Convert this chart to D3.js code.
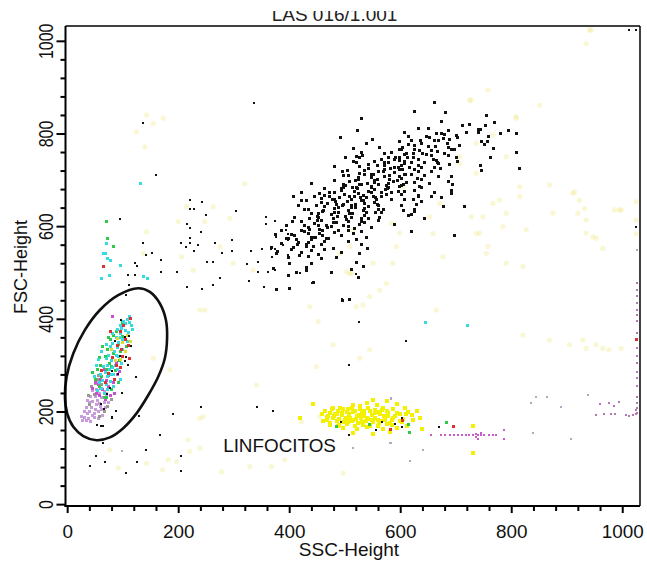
<!DOCTYPE html>
<html>
<head>
<meta charset="utf-8">
<script src="https://cdn.jsdelivr.net/npm/d3@7"></script>
<style>
  html, body { margin: 0; padding: 0; background: #fff; }
  svg { display: block; }
</style>
</head>
<body>
<div id="chart"></div>
<script>
// axis setup
const sscDomain = [-3, 1032];
const fscDomain = [-4, 1032];
const axisTicks = d3.range(0, 1001, 40);
const sscLabels = [0, 200, 400, 600, 800, 1000];
const fscLabels = [0, 200, 400, 600, 800, 1000];

// events, [SSC-Height, FSC-Height]
const granulocytes = [
    [530,833],[522,806],[492,792],[549,787],[539,779],
    [516,768],[529,759],[563,770],[584,760],[598,766],
    [531,752],[572,757],[579,749],[608,755],
    [501,748],[515,740],[520,751],[566,744],[572,738],[591,749],[599,743],
    [521,738],[527,729],[542,733],[554,740],[571,731],[578,737],[596,728],[608,735],
    [482,729],[505,720],[542,724],[559,731],[569,719],[590,727],[603,722],
    [495,719],[506,710],[527,714],[536,721],[551,712],[560,718],[581,709],[589,716],[609,711],
    [497,709],[519,700],[524,706],[547,711],[554,699],[572,708],[581,702],[599,707],
    [482,700],[497,691],[509,697],[524,701],[530,690],[554,695],[559,702],[578,692],[587,697],[605,690],
    [440,692],[493,682],[501,689],[521,683],[527,691],[548,686],[553,680],[575,689],[579,683],[602,688],
    [464,682],[473,673],[494,678],[497,684],[518,675],[523,681],[542,676],[547,683],[566,674],[573,680],[596,676],
    [421,673],[445,664],[455,670],[473,665],[481,674],[500,668],[509,664],[525,671],[533,666],[548,673],[555,663],[575,669],[584,674],
    [407,664],[431,655],[458,660],[464,666],[482,657],[491,663],[512,659],[517,665],[533,656],[539,662],[557,658],[566,664],[584,659],
    [422,655],[449,646],[458,651],[477,657],[485,648],[505,653],[512,645],[529,656],[536,649],[554,652],[560,646],
    [417,646],[435,637],[463,643],[469,649],[488,640],[495,646],[512,641],[519,647],[536,638],[542,644],[559,648],[569,637],
    [428,637],[452,628],[461,634],[482,639],[489,630],[507,635],[513,627],[533,634],[539,629],[560,636],[566,631],
    [440,628],[452,619],[476,625],[482,631],[501,622],[509,627],[529,618],[536,624],[555,629],[563,620],
    [410,619],[422,610],[437,616],[451,621],[458,612],[479,617],[485,609],[503,615],[511,620],[530,611],[542,618],[561,612],
    [405,610],[428,601],[446,606],[451,612],[467,603],[479,608],[497,601],[506,610],[527,604],[536,609],[589,604],
    [395,601],[422,592],[434,598],[452,603],[455,594],[475,599],[488,591],[507,600],[518,595],[548,598],
    [386,592],[404,583],[428,589],[437,594],[455,585],[459,591],[481,586],[506,592],[530,588],
    [374,583],[399,574],[409,580],[434,585],[440,576],[459,581],[467,573],[494,580],[515,584],
    [395,574],[417,565],[439,571],[446,576],[464,568],[470,573],[506,567],[521,572],[539,575],
    [386,563],[407,554],[415,560],[435,565],[443,556],[458,561],[479,553],[530,560],
    [367,554],[379,545],[404,550],[431,556],[439,547],[464,551],[494,544],[541,552],
    [377,542],[398,533],[419,538],[422,544],[434,535],[452,540],[485,533],[527,541],
    [457,531],[521,523],[401,520],[431,511],[440,521],[533,513],[371,509],[413,500],[431,505],[476,500],
    [512,508],[398,494],[525,490],[443,478],[377,463],[401,465],[496,440],[508,442],
    [662,868],[626,849],[681,845],[755,840],
    [674,826],[711,817],[769,825],[725,819],[741,810],[753,818],
    [632,811],[674,801],[686,807],[719,802],[745,809],[781,800],[794,806],
    [608,803],[647,794],[665,800],[679,799],[701,797],[703,792],[740,803],[758,795],[809,800],
    [614,794],[637,785],[653,791],[677,790],[689,788],[746,784],
    [599,784],[626,775],[638,780],[662,786],[685,778],[707,774],[757,784],
    [614,776],[626,767],[650,773],[663,772],[686,770],[692,766],[752,776],[767,769],
    [602,767],[623,758],[635,763],[656,764],[667,761],[680,757],[698,767],[809,759],
    [611,758],[623,749],[647,755],[656,754],[686,752],
    [599,748],[620,739],[632,744],[659,745],[665,742],[667,738],[701,748],[703,741],[763,749],
    [608,740],[632,731],[644,737],[669,736],[689,734],
    [602,731],[626,722],[638,727],[662,728],[673,725],[746,721],[745,731],[815,724],
    [599,722],[620,713],[632,718],[656,719],
    [607,712],[631,703],[644,709],[668,708],[692,707],
    [602,704],[626,695],[638,701],[686,696],
    [611,695],[635,686],[653,692],[693,691],
    [599,686],[626,677],[638,683],[692,678],
    [608,676],[632,667],[662,673],[692,672],
    [602,668],[623,659],[632,665],[656,664],[674,663],
    [608,657],[629,648],[638,654],
    [602,646],[626,637],[677,643],[716,642],
    [605,635],[620,626],[626,632],[614,624],[644,616],
    [619,590],[698,581],
    [513,683],[547,705],[571,723],[589,744],[528,662],[561,690],[498,648],[536,712],[582,726],[604,770],
    [620,786],[650,812],[668,785],[640,758],[617,728],[594,700],[576,681],[552,664],[519,640],[486,622],
    [469,598],[447,577],[430,560],[412,571],[460,633],[483,654],[540,693],[565,744],[527,749],[612,748]
];

const blackScatter = [
    [137,823],[337,865],[160,710],[95,615],[221,655],[229,636],[221,636],[244,651],[251,623],[305,633],
    [217,605],[221,595],[241,587],[221,573],[206,564],[214,554],[221,563],[236,559],[229,546],[267,564],
    [298,569],[298,546],[279,541],[253,523],[263,523],[137,564],[142,537],[153,541],[169,527],[122,520],
    [127,514],[110,495],[122,495],[169,500],[199,500],[111,473],[107,451],[217,468],[244,464],[263,473],
    [275,487],[325,518],[328,482],[332,546],[344,523],[352,550],[367,550],[374,550],[359,619],[359,604],
    [374,610],[377,577],[370,533],[344,500],[363,500],[374,505],[355,468],[377,464],[389,559],[398,569],
    [399,583],[395,592],[399,538],[400,495],[400,464],[442,477],[419,498],[241,209],[343,209],[371,200],
    [191,195],[81,186],[62,169],[65,169],[167,149],[65,132],[53,104],[69,91],[41,81],[127,91],
    [142,117],[206,104],[206,72],[106,67],[130,190],[521,497],[496,442],[508,442],[526,392],[610,351],
    [508,300],[1026,597],[1013,1023],[1026,1023],
    [493,177],[568,177],[591,172],[603,167],[557,159],[508,149],[671,167],[603,185]
];

const lymphYellow = [
    [551,226],[575,223],[443,217],[515,214],[539,218],[557,215],[593,217],
    [479,208],[497,205],[512,209],[527,206],[542,208],[554,204],[569,209],[587,206],[608,207],
    [464,201],[473,198],[488,202],[503,199],[518,201],[530,197],[545,202],[560,199],[575,201],[593,198],[614,200],[629,202],
    [458,194],[470,191],[482,195],[494,192],[508,194],[521,190],[535,195],[548,192],[563,194],[578,191],[599,195],[620,192],
    [419,186],[467,183],[478,187],[490,184],[502,186],[515,182],[529,187],[541,184],[554,186],[572,183],[587,187],[605,184],[635,186],
    [461,179],[473,176],[485,180],[499,177],[512,179],[524,175],[538,180],[551,177],[565,179],[581,176],[599,180],
    [473,172],[488,169],[503,173],[518,170],[533,172],[559,169],[575,173],[611,170],
    [497,165],[521,162],[539,166],[569,163],[593,165],[638,162],[515,155],[551,152],[581,156],
    [480,190],[495,197],[510,187],[525,193],[540,186],[555,197],[570,190],[585,182],[500,182],[530,178],
    [545,170],[515,199],[560,183],[490,172],[505,205],[535,201],[730,169],[730,111],
    [476,205],[485,195],[506,178],[520,185],[532,190],[548,181],[562,175],[578,197],[590,190],[602,178],
    [468,188],[492,208],[528,212],[566,203],[584,172],[610,196],[622,182]
];

const faintYellow = [
    [758,894],[728,872],[851,861],[809,836],[767,797],[737,779],[791,750],[707,735],[815,685],[869,689],
    [767,649],[791,628],[728,620],[743,585],[827,592],[875,628],[911,671],[935,585],[995,635],[755,541],
    [677,534],[791,520],[821,513],[947,577],[599,585],[653,620],[605,685],[671,649],[941,1023],
    [125,804],[143,840],[155,822],[173,833],[140,771],[320,692],[200,610],[248,610],[215,642],[263,642],
    [293,617],[275,556],[143,588],[206,534],[227,505],[137,541],[299,520],[335,505],
    [239,419],[248,419],[155,315],[185,290],[341,257],[449,297],[452,394],[437,426],[239,185],[245,189],
    [218,139],[239,121],[221,114],[172,74],[182,96],[197,92],[278,70],[329,81],[368,81],[392,96],
    [77,117],[92,78],[422,178],[455,189],[143,88],
    [821,365],[869,354],[665,419],[512,498],[533,430],[545,333],[527,315],[479,344],[497,67],
    [914,674],[923,656],[920,628],[932,638],[935,613],[953,574],[965,552],[986,635],[998,635],[1025,653],
    [905,344],[929,354],[935,336],[953,344],[965,336],[976,333],[998,336],[944,1024],[935,994],[1025,613],[1025,584],
    [509,556],[491,541],[503,502],[551,520],[587,520],[575,476],[521,426],[563,462],[509,498],[593,556],
    [545,448],[584,606],[515,592],[725,872],[809,833],[707,750],[737,714],[779,656],[815,664],[749,620],
    [785,599],[737,584],[659,584],[758,556]
];

// gated lymphocyte events, by colour
const gateCyan = [
    [108,400],[112,392],[102,395],[115,385],[98,380],[105,375],[110,370],[95,368],[88,360],[100,355],
    [93,350],[82,348],[78,340],[90,338],[85,330],[75,322],[70,315],[80,310],[72,300],[65,298],
    [76,290],[68,285],[60,280],[73,275],[64,268],[58,262],[70,258],[62,250],[55,245],[66,240],
    [77,265],[83,280],[86,300],[92,320],[118,378],[96,385],
    [112,405],[104,390],[90,378],[82,368],[96,360],[108,352],[70,345],[100,335],[62,330],[88,322],
    [56,312],[98,305],[82,296],[52,300],[90,290],[78,280],[96,270],[48,275],[84,255],[72,248],
    [131,692],[71,563],[68,541],[77,527],[65,541],[73,530],[95,515],[62,487],[76,495],[137,491],[145,487],
    [645,392],[721,387]
];
const gateGreen = [
    [88,372],[84,365],[78,355],[92,345],[72,335],[84,325],[68,320],[76,305],[60,300],[70,292],
    [54,290],[62,275],[50,270],[58,255],[66,230],[80,298],[95,330],[100,362],
    [100,392],[74,360],[106,340],[64,340],[94,310],[58,318],[86,288],[46,284],[80,248],[70,230],[92,262],
    [71,610],[83,556],[73,574],[484,167],[545,173],[614,173],[617,154],[683,177]
];
const gateRed = [
    [102,385],[95,372],[105,355],[90,342],[98,335],[82,318],[110,342],[88,300],[75,282],[112,315],
    [68,262],[85,270],[114,402],[78,372],[96,296],[62,288],[100,320],
    [65,513],[695,167],[1026,355],[583,162],[603,181]
];
const gateYellow = [
    [108,365],[100,350],[90,358],[114,352],[86,310],[104,330],[96,312],[80,335]
];
const gateBlack = [
    [98,398],[112,362],[104,360],[86,352],[116,340],[95,320],[110,300],[82,288],[78,250],[62,215],
    [55,170],[100,240],[88,200],[82,188],[124,274],[107,318],[92,280],[72,238],[104,308],[66,205]
];
const gatePurple = [
    [82,295],[74,278],[66,290],[60,270],[70,268],[56,258],[64,248],[90,280],[52,240],[75,255],
    [84,262],[58,235],[81,406],[88,306],[94,286],[50,262],[78,236],[68,226],[46,250],[85,240]
];
const gateLavender = [
    [60,250],[52,248],[58,240],[50,232],[62,230],[55,225],[46,222],[52,215],[60,212],[44,210],
    [50,205],[40,200],[56,200],[36,195],[45,192],[30,188],[38,185],[48,188],[26,190],[34,180],
    [42,178],[62,205],[66,220],[70,240],[54,262],[46,245],[40,220],[30,200],
    [70,232],[74,220],[64,192],[56,186],[34,208],[42,232],[36,224],[58,218],[68,210],[48,196],
    [28,182],[66,244]
];
const gateGray = [
    [50,260],[44,255],[56,278],[62,258],[48,238],[40,215],[66,200],[58,190],[72,212],[38,236],
    [80,226],[54,270]
];

const magentaStreak = [
    [656,149],[674,149],[680,149],[689,149],[697,148],[704,150],[712,149],[719,148],[725,150],[731,149],
    [736,152],[736,144],[740,149],[740,141],[746,150],[752,148],[760,149],[767,150],[773,149],[788,159],
    [788,140],[745,153]
];
const magentaRight = [
    [961,216],[976,219],[986,211],[995,221],[953,193],[968,195],[980,195],[988,195],[1007,193],[1013,191],
    [1025,195],[1025,203],[1020,192],
    [1026,477],[1026,461],[1026,448],[1026,435],[1026,419],[1026,408],[1026,394],[1026,369],[1026,337],
    [1026,319],[1026,304],[1026,286],[1026,272],[1026,254],[1026,232],[1026,218],[1026,207],[1026,197]
];
const lavenderScatter = [
    [583,229],[835,219],[844,231],[865,231],[889,209],[939,236],[908,140],[839,154],[617,94],[641,117],
    [583,132],[515,122],[584,226],[581,133],[98,114],[1026,549]
];

// gate vertices, [SSC, FSC]
const gateSSC = [128,149,167,178,180,176,164,146,125,101,77,53,29,11,0,-4,-1,11,32,59,92];
const gateFSC = [466,458,433,397,358,315,275,235,196,164,144,138,147,167,196,232,275,325,376,419,451];

const width = 647;
const height = 561;
const frame = { left: 65.5, right: 640, top: 26, bottom: 506 };
const fontFamily = '"Liberation Sans", Arial, Helvetica, sans-serif';

const x = d3.scaleLinear().domain(sscDomain).range([frame.left, frame.right]);
const y = d3.scaleLinear().domain(fscDomain).range([frame.bottom, frame.top]);

const svg = d3.select('#chart').append('svg')
    .attr('width', width)
    .attr('height', height)
    .attr('viewBox', [0, 0, width, height])
    .style('font-family', fontFamily);

svg.append('defs').append('clipPath').attr('id', 'plot-clip')
    .append('rect')
    .attr('x', frame.left)
    .attr('y', frame.top)
    .attr('width', frame.right - frame.left)
    .attr('height', frame.bottom - frame.top);

svg.select('defs').append('clipPath').attr('id', 'title-clip')
    .append('rect')
    .attr('x', 0).attr('y', 11)
    .attr('width', width).attr('height', 15);

const plot = svg.append('g').attr('clip-path', 'url(#plot-clip)');

// faint events are soft blobs, the rest are small square pixels
plot.append('g')
    .selectAll('circle')
    .data(faintYellow)
    .join('circle')
    .attr('cx', d => x(d[0]))
    .attr('cy', d => y(d[1]))
    .attr('r', 2.6)
    .attr('fill', '#ece77a')
    .attr('opacity', 0.32);

const layers = [
    { data: lymphYellow, color: '#f3f000', size: 3.6 },
    { data: lavenderScatter, color: '#b9a4c4', size: 2 },
    { data: magentaStreak, color: '#cc5ccc', size: 2.2 },
    { data: magentaRight, color: '#b576b5', size: 2.2 },
    { data: gateLavender, color: '#c79bdc', size: 2.6 },
    { data: gateGray, color: '#9a9a88', size: 2.6 },
    { data: gatePurple, color: '#c84fcf', size: 2.6 },
    { data: gateGreen, color: '#2fc84a', size: 2.6 },
    { data: gateCyan, color: '#36dbe0', size: 2.6 },
    { data: gateRed, color: '#de3030', size: 2.6 },
    { data: gateYellow, color: '#e2dc2c', size: 2.6 },
    { data: gateBlack, color: '#111', size: 2.4 },
    { data: granulocytes, color: '#111', size: 2.5 },
    { data: blackScatter, color: '#111', size: 2.4 }
];

layers.forEach(layer => {
    plot.append('g')
        .attr('fill', layer.color)
        .attr('shape-rendering', 'crispEdges')
        .selectAll('rect')
        .data(layer.data)
        .join('rect')
        .attr('x', d => Math.round(x(d[0]) - layer.size / 2))
        .attr('y', d => Math.round(y(d[1]) - layer.size / 2))
        .attr('width', layer.size)
        .attr('height', layer.size);
});

// gate
const gateLine = d3.line()
    .x(d => x(d[0]))
    .y(d => y(d[1]))
    .curve(d3.curveCatmullRomClosed.alpha(0.5));

svg.append('path')
    .attr('d', gateLine(gateSSC.map((v, i) => [v, gateFSC[i]])))
    .attr('fill', 'none')
    .attr('stroke', '#111')
    .attr('stroke-width', 2.6);

svg.append('text')
    .attr('transform', `translate(${x(281)},${y(113)}) scale(1.02,1)`)
    .attr('font-size', 18.5)
    .attr('fill', '#111')
    .text('LINFOCITOS');

// frame
svg.append('g')
    .attr('stroke', '#000')
    .call(g => {
        g.append('line').attr('x1', frame.left).attr('x2', frame.right)
            .attr('y1', frame.top).attr('y2', frame.top).attr('stroke-width', 1.5);
        g.append('line').attr('x1', frame.right).attr('x2', frame.right)
            .attr('y1', frame.top).attr('y2', frame.bottom).attr('stroke-width', 1.5);
        g.append('line').attr('x1', frame.left).attr('x2', frame.left)
            .attr('y1', frame.top).attr('y2', frame.bottom + 1).attr('stroke-width', 2);
        g.append('line').attr('x1', frame.left - 1).attr('x2', frame.right)
            .attr('y1', frame.bottom).attr('y2', frame.bottom).attr('stroke-width', 2);
    });

svg.append('g')
    .attr('transform', `translate(0,${frame.bottom})`)
    .call(
        d3.axisBottom(x)
          .tickValues(axisTicks)
          .tickFormat(d => sscLabels.includes(d) ? d : '')
    )
    .call(g => {
        g.attr('font-family', fontFamily);
        g.select('.domain').remove();
        g.selectAll('.tick line')
            .attr('stroke', '#000')
            .attr('stroke-width', 2)
            .attr('y2', d => sscLabels.includes(d) ? 7 : 5);
        g.selectAll('.tick text')
            .attr('y', 32)
            .attr('dy', 0)
            .attr('fill', '#111')
            .attr('font-size', 18)
            .attr('transform', 'scale(1.05,1)');
    });

svg.append('g')
    .attr('transform', `translate(${frame.left},0)`)
    .call(
        d3.axisLeft(y)
          .tickValues(axisTicks)
          .tickFormat(d => fscLabels.includes(d) ? d : '')
    )
    .call(g => {
        g.attr('font-family', fontFamily);
        g.select('.domain').remove();
        g.selectAll('.tick line')
            .attr('stroke', '#000')
            .attr('stroke-width', 2)
            .attr('x2', d => fscLabels.includes(d) ? -9 : -5);
        g.selectAll('.tick text')
            .attr('x', 0)
            .attr('dy', 0)
            .attr('text-anchor', 'middle')
            .attr('fill', '#111')
            .attr('font-size', 16)
            .attr('transform', 'translate(-13,0) scale(1.25,1) rotate(-90)');
    });

svg.append('text')
    .attr('x', 349)
    .attr('y', 556)
    .attr('text-anchor', 'middle')
    .attr('font-size', 19)
    .attr('fill', '#111')
    .text('SSC-Height');

svg.append('text')
    .attr('transform', 'translate(27,267) rotate(-90)')
    .attr('text-anchor', 'middle')
    .attr('font-size', 18)
    .attr('fill', '#111')
    .text('FSC-Height');

svg.append('text')
    .attr('clip-path', 'url(#title-clip)')
    .attr('x', 334.5)
    .attr('y', 20.7)
    .attr('text-anchor', 'middle')
    .attr('font-size', 19)
    .attr('fill', '#222')
    .text('LAS 016/1.001');
</script>
</body>
</html>
